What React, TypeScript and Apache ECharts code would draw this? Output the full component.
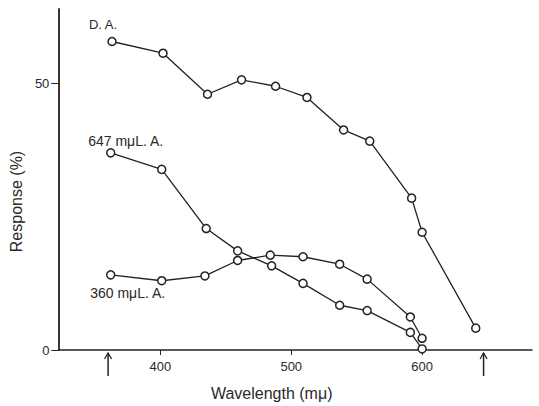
import React, { useEffect, useRef } from "react";
import * as echarts from "echarts";

const xTickValues = [400, 500, 600];
const yTickValues = [0, 50];

const wavelengthsDA = [363, 402, 436, 462, 488, 512, 540, 560, 592, 600, 641];
const responseDA = [57.9, 55.7, 48.0, 50.7, 49.5, 47.4, 41.3, 39.2, 28.5, 22.1, 4.1];

const wavelengths647 = [362, 401, 435, 459, 485, 509, 537, 558, 591, 600];
const response647 = [37.0, 33.9, 22.8, 18.6, 15.8, 12.5, 8.4, 7.4, 3.3, 0.2];

const wavelengths360 = [362, 401, 434, 459, 484, 509, 537, 558, 591, 600];
const response360 = [14.1, 13.0, 13.9, 16.8, 17.8, 17.5, 16.1, 13.3, 6.2, 2.2];

const seriesNames = ["D. A.", "647 mμL. A.", "360 mμL. A."];
const arrowWavelengths = [360, 647];

const FONT = "'Liberation Sans', Arial, sans-serif";
const INK = "#222";
const TEXT = "#2a2a2a";

function makeSeries(name: string, xs: number[], ys: number[], labelOffset: number[], fontSize: number) {
  return {
    type: "line",
    name,
    data: xs.map((x, i) =>
      i === 0
        ? {
            value: [x, ys[i]],
            label: {
              show: true,
              formatter: name,
              position: "inside",
              offset: labelOffset,
              color: TEXT,
              fontSize,
              fontFamily: FONT,
            },
          }
        : { value: [x, ys[i]] }
    ),
    symbol: "circle",
    symbolSize: 8,
    lineStyle: { color: INK, width: 1.3 },
    itemStyle: { color: "#fff", borderColor: INK, borderWidth: 1.5 },
    z: 3,
  };
}

export default function App() {
  const ref = useRef<HTMLDivElement>(null);
  useEffect(() => {
    document.body.style.margin = "0";
    const chart = echarts.init(ref.current!, null, { renderer: "svg" });
    chart.setOption({
      animation: false,
      backgroundColor: "#fff",
      grid: { left: 58, right: 7, top: 9, bottom: 56, containLabel: false },
      xAxis: {
        type: "value",
        min: 322,
        max: 684,
        name: "Wavelength (mμ)",
        nameLocation: "middle",
        nameGap: 35,
        nameTextStyle: { color: TEXT, fontSize: 16, fontFamily: FONT, padding: [0, 47, 0, 0] },
        axisLine: { show: true, lineStyle: { color: INK, width: 1.5 } },
        axisTick: { show: true, inside: false, length: 5, customValues: xTickValues, lineStyle: { color: INK } },
        axisLabel: { customValues: xTickValues, color: TEXT, fontSize: 13, fontFamily: FONT, margin: 10 },
        splitLine: { show: false },
      },
      yAxis: {
        type: "value",
        min: 0,
        max: 64,
        name: "Response (%)",
        nameLocation: "middle",
        nameGap: 27,
        nameRotate: 90,
        nameTextStyle: { color: TEXT, fontSize: 16, fontFamily: FONT, padding: [0, 44, 0, 0] },
        axisLine: { show: true, lineStyle: { color: INK, width: 1.8 } },
        axisTick: { show: true, inside: false, length: 7, customValues: yTickValues, lineStyle: { color: INK } },
        axisLabel: { customValues: yTickValues, color: TEXT, fontSize: 13, fontFamily: FONT, margin: 9 },
        splitLine: { show: false },
      },
      series: [
        makeSeries(seriesNames[0], wavelengthsDA, responseDA, [-9, -17], 13),
        makeSeries(seriesNames[1], wavelengths647, response647, [15, -12], 14),
        makeSeries(seriesNames[2], wavelengths360, response360, [17, 18], 14),
      ],
    });

    const y0 = chart.convertToPixel({ yAxisIndex: 0 }, 0) as number;
    const graphics: any[] = [];
    arrowWavelengths.forEach((w) => {
      const x = chart.convertToPixel({ xAxisIndex: 0 }, w) as number;
      graphics.push({
        type: "line",
        shape: { x1: x, y1: y0 + 3, x2: x, y2: y0 + 26 },
        style: { stroke: INK, lineWidth: 1.5 },
      });
      graphics.push({
        type: "polyline",
        shape: { points: [[x - 3.5, y0 + 9], [x, y0 + 3], [x + 3.5, y0 + 9]] },
        style: { stroke: INK, lineWidth: 1.3, fill: "none" },
      });
    });
    chart.setOption({ graphic: graphics });

    return () => chart.dispose();
  }, []);
  return <div ref={ref} style={{ width: 539, height: 406 }} />;
}
